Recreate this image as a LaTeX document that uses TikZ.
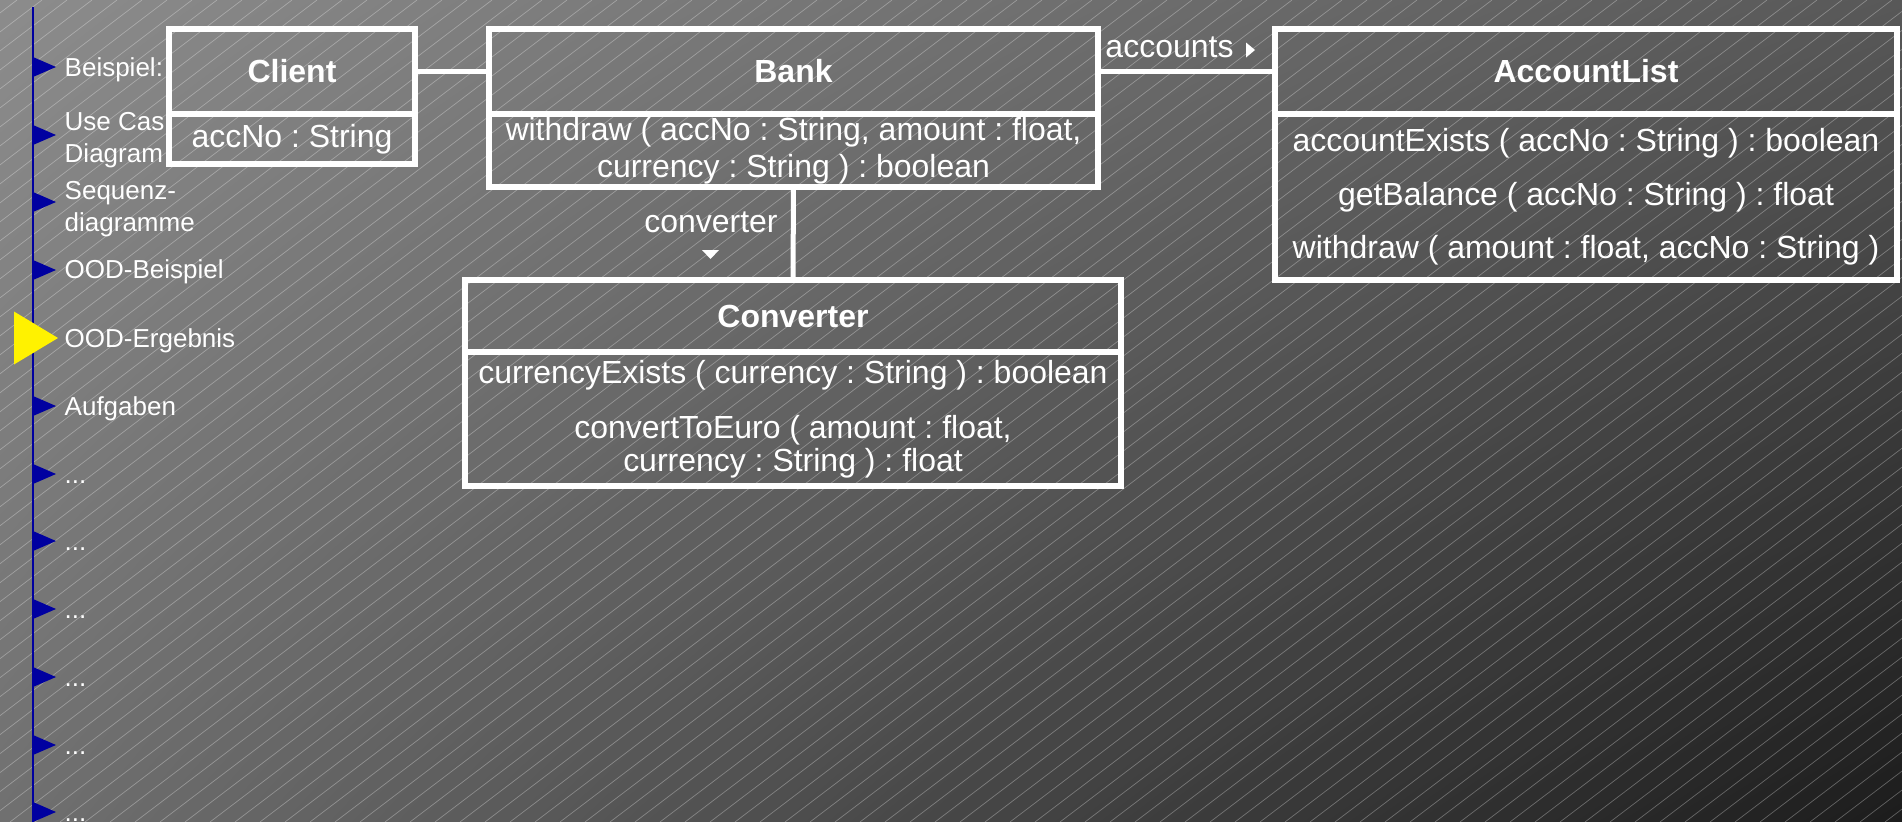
\documentclass[tikz,border=0pt]{standalone}
\usepackage{fontspec}
\setmainfont{Liberation Sans}
\usepackage{xcolor}
\usepackage{tikz}
\usetikzlibrary{positioning,shadings}
\frenchspacing

\definecolor{navblue}{RGB}{0,0,160}
\definecolor{bgtl}{RGB}{140,140,140}
\definecolor{bgtr}{RGB}{88,88,88}
\definecolor{bgbl}{RGB}{112,112,112}
\definecolor{bgbr}{RGB}{28,28,28}

\begin{document}
\begin{tikzpicture}[x=0.1mm,y=0.1mm,
	classbox/.style={draw=white,line width=0.55mm,inner sep=0pt,outer sep=0pt,text=white,align=center,font=\fontsize{9.1}{10.4}\selectfont},
	classname/.style={classbox,font=\bfseries\fontsize{9.1}{10.4}\selectfont},
	assoc/.style={draw=white,line width=0.5mm},
	lbl/.style={text=white,inner sep=0pt,font=\fontsize{9.1}{10.4}\selectfont},
	navtext/.style={text=white,inner sep=0pt,align=left,font=\fontsize{7.4}{9.1}\selectfont},
	hatch/.style={white,opacity=0.3,line width=0.07mm}]
	\useasboundingbox (0,0) rectangle (1902,-822);
	
	% background
	\shade[lower left=bgbl,upper left=bgtl,upper right=bgtr,lower right=bgbr] (0,0) rectangle (1902,-822);
	\begin{scope}
		\clip (0,0) rectangle (1902,-822);
		\foreach \i in {-1090,-1065,...,1902}
			\draw[hatch] (\i,-822) -- ++(1082,822);
	\end{scope}
	
	% navigation
	\draw[navblue,line width=0.28mm] (33,-7) -- (33,-822);
	\foreach \ty in {67,135,202,270,406,474,541,609,677,745,812}
		\fill[navblue] (33,-\ty+10) -- (56,-\ty) -- (33,-\ty-10) -- cycle;
	\fill[yellow] (14,-311.5) -- (58,-338) -- (14,-364.5) -- cycle;
	
	\node[navtext,anchor=base west] (nav1) at (64,-76) {Beispiel:};
	\node[navtext,anchor=north west] (nav2) at (64,-112) {Use Cas\\Diagram};
	\node[navtext,anchor=north west] (nav3) at (64,-181) {Sequenz-\\diagramme};
	\node[navtext,anchor=base west] (nav4) at (64,-279) {OOD-Beispiel};
	\node[navtext,anchor=base west] (nav5) at (64,-347) {OOD-Ergebnis};
	\node[navtext,anchor=base west] (nav6) at (64,-415) {Aufgaben};
	\foreach \ty [count=\k] in {474,541,609,677,745,812}
		\node[navtext,anchor=base west] (dots\k) at (64,-\ty-9) {...};
	
	% classes
	\node[classname,minimum width=24.6mm,minimum height=8.5mm] (client) at (292,-71.5) {Client};
	\node[classbox,minimum width=24.6mm,minimum height=5mm,below=0pt of client] (clientattr) {accNo : String};
	
	\node[classname,minimum width=60.9mm,minimum height=8.5mm] (bank) at (793.5,-71.5) {Bank};
	\node[classbox,minimum width=60.9mm,minimum height=7.3mm,below=0pt of bank] (bankops)
		{withdraw ( accNo : String, amount : float,\\currency : String ) : boolean};
	
	\node[classname,minimum width=62.2mm,minimum height=8.5mm] (acclist) at (1586,-71.5) {AccountList};
	\node[classbox,minimum width=62.2mm,minimum height=16.6mm,below=0pt of acclist,font=\fontsize{9.1}{15.2}\selectfont] (acclistops)
		{accountExists ( accNo : String ) : boolean\\getBalance ( accNo : String ) : float\\withdraw ( amount : float, accNo : String )};
	
	\node[classname,minimum width=65.6mm,minimum height=7.2mm] (converter) at (793,-316) {Converter};
	\node[classbox,minimum width=65.6mm,minimum height=13.4mm,below=0pt of converter,font=\fontsize{9.1}{9.3}\selectfont] (converterops)
		{currencyExists ( currency : String ) : boolean\\[6.3pt]convertToEuro ( amount : float,\\currency : String ) : float};
	
	% associations
	\draw[assoc] (client.east) -- (bank.west);
	\draw[assoc] (bank.east) -- (acclist.west);
	\draw[assoc] (bankops.south) -- (converter.north);
	
	\node[lbl,anchor=base] (acclbl) at (1169.5,-57) {accounts};
	\fill[white] (1246,-42.5) -- (1255,-50) -- (1246,-57.5) -- cycle;
	\node[lbl,anchor=base] (convlbl) at (711,-232.5) {converter};
	\fill[white] (702,-250) -- (719,-250) -- (710.5,-259) -- cycle;
\end{tikzpicture}
\end{document}
